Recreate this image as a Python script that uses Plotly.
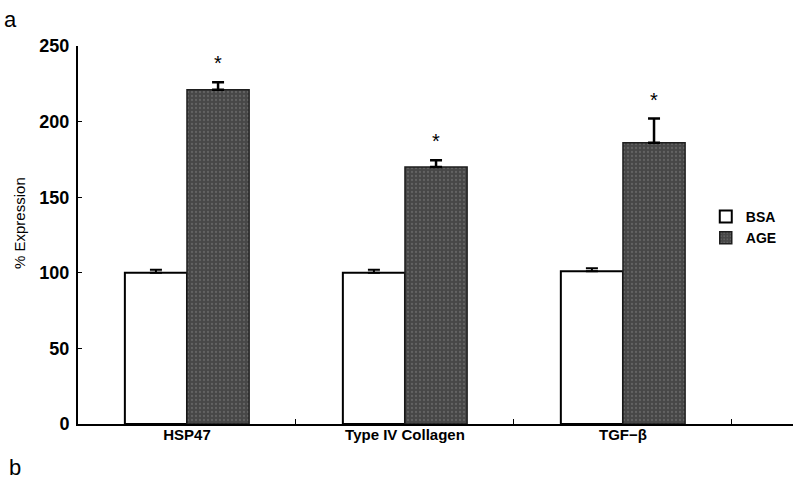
import plotly.graph_objects as go

categories = ["HSP47", "Type IV Collagen", "TGF−β"]
bsa_values = [100, 100, 101]
bsa_errors = [2, 2, 2]
age_values = [221, 170, 186]
age_errors = [5, 4.5, 16]
significant = ["*", "*", "*"]
y_ticks = [0, 50, 100, 150, 200, 250]

FONT = "Liberation Sans, Arial, sans-serif"

fig = go.Figure()
fig.add_trace(go.Bar(
    name="BSA", x=categories, y=bsa_values,
    marker=dict(color="white", line=dict(color="black", width=2)),
    error_y=dict(type="data", array=bsa_errors, arrayminus=[0]*3, symmetric=False,
                 color="black", thickness=2, width=6),
))
fig.add_trace(go.Bar(
    name="AGE", x=categories, y=age_values,
    marker=dict(color="#4e4e4e", line=dict(color="#1e1e1e", width=1.5),
                pattern=dict(shape=".", bgcolor="#474747", fgcolor="#808080", size=4, solidity=0.25)),
    error_y=dict(type="data", array=age_errors, arrayminus=[0]*3, symmetric=False,
                 color="black", thickness=2.5, width=6),
))

bargap = 0.43
half = (1 - bargap) / 4
for i, (v, e, s) in enumerate(zip(age_values, age_errors, significant)):
    fig.add_annotation(x=i + half, y=v + e, xref="x", yref="y", text=s, showarrow=False,
                       yanchor="bottom", yshift=6, font=dict(family=FONT, size=20, color="black"))

fig.add_annotation(x=-0.106, y=1.071, xref="paper", yref="paper", text="a", showarrow=False,
                   xanchor="left", yanchor="middle", font=dict(family=FONT, size=22, color="black"))
fig.add_annotation(x=-0.1, y=-0.116, xref="paper", yref="paper", text="b", showarrow=False,
                   xanchor="left", yanchor="middle", font=dict(family=FONT, size=22, color="black"))
# y-axis title placed as rotated text at the reference position
fig.add_annotation(x=-0.081, y=0.532, xref="paper", yref="paper", text="% Expression", showarrow=False,
                   textangle=-90, xanchor="center", yanchor="middle",
                   font=dict(family=FONT, size=15, color="black"))

fig.update_layout(
    width=795, height=491,
    margin=dict(l=78, r=2, t=46, b=67, autoexpand=False),
    paper_bgcolor="white", plot_bgcolor="white",
    barmode="group", bargap=bargap, bargroupgap=0,
    font=dict(family=FONT, color="black"),
    showlegend=True,
    legend=dict(x=0.878, y=0.59, xanchor="left", yanchor="top",
                font=dict(family=FONT, size=14, color="black", weight="bold"),
                itemwidth=30, tracegroupgap=0, bgcolor="rgba(0,0,0,0)"),
)
fig.update_xaxes(
    range=[-0.5, 2.78], showline=True, linecolor="black", linewidth=2,
    ticks="inside", tickson="boundaries", ticklen=5, tickcolor="black",
    tickfont=dict(family=FONT, size=15, color="black", weight="bold"),
    ticklabelstandoff=-4,
    showgrid=False, zeroline=False, automargin=False,
)
fig.update_yaxes(
    range=[0, 250], tickvals=y_ticks, showline=True, linecolor="black", linewidth=2,
    ticks="inside", ticklen=4, tickcolor="black",
    tickfont=dict(family=FONT, size=18, color="black", weight="bold"),
    ticklabelstandoff=3,
    showgrid=False, zeroline=False, automargin=False,
)

fig.write_html("out.html", config={"displayModeBar": False},
               post_script="document.body.style.margin='0';document.body.style.padding='0';")
